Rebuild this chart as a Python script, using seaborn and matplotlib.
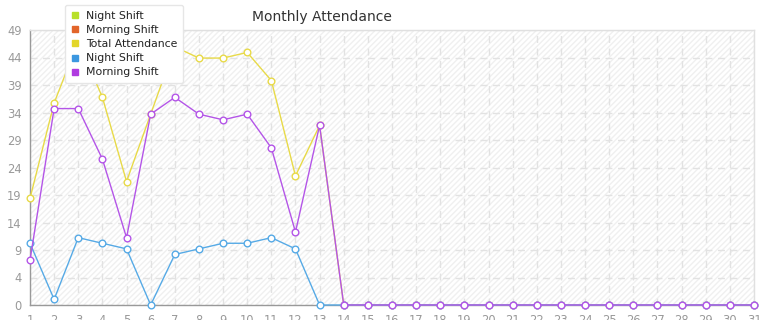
import numpy as np
import pandas as pd
import matplotlib
matplotlib.use("Agg")
import matplotlib.pyplot as plt
from matplotlib.patches import Rectangle
from matplotlib.lines import Line2D
import seaborn as sns

days = list(range(1, 32))
night_shift = [11, 1, 12, 11, 10, 0, 9, 10, 11, 11, 12, 10, 0] + [0] * 18
morning_shift = [8, 35, 35, 26, 12, 34, 37, 34, 33, 34, 28, 13, 32] + [0] * 18
total_attendance = [19, 36, 47, 37, 22, 34, 46, 44, 44, 45, 40, 23, 32] + [0] * 18
y_max = 49
y_tick_labels = ["0", "4", "9", "14", "19", "24", "29", "34", "39", "44", "49"]
legend_labels = ["Night Shift", "Morning Shift", "Total Attendance", "Night Shift", "Morning Shift"]
legend_colors = ["#b8e02a", "#e2652a", "#e3d62a", "#3b97e0", "#b03be0"]

sns.set_theme(style="white")
plt.rcParams['font.family'] = ['DejaVu Sans']

fig = plt.figure(figsize=(7.65, 3.2), dpi=100)
ax = fig.add_axes([30 / 765, 1 - 305 / 320, 724 / 765, 275 / 320])

# hatched background
ax.add_patch(Rectangle((0, 0), 1, 1, transform=ax.transAxes, facecolor="white",
                       edgecolor="#f0f0f0", hatch="//////", linewidth=0, zorder=0))

df = pd.DataFrame({"day": days, "Total Attendance": total_attendance,
                   "Night Shift": night_shift, "Morning Shift": morning_shift})

series = [("Total Attendance", "#e8da48"), ("Night Shift", "#56aae6"), ("Morning Shift", "#b455e8")]
for i, (col, color) in enumerate(series):
    sns.lineplot(data=df, x="day", y=col, ax=ax, color=color, linewidth=1.0,
                 marker="o", markersize=4.8, markerfacecolor="white",
                 markeredgecolor=color, markeredgewidth=1.0, clip_on=False,
                 zorder=3 + i, legend=False)

ax.set_xlim(1, 31)
ax.set_ylim(0, y_max)
ax.set_xticks(days)
ax.set_xticklabels([str(d) for d in days])
yt = np.linspace(0, y_max, 11)
ax.set_yticks(yt)
ax.set_yticklabels(y_tick_labels)
ax.set_xlabel("")
ax.set_ylabel("")

ax.grid(True, color="#e2e2e2", linestyle=(0, (5, 4)), linewidth=1)
ax.set_axisbelow(True)
for s in ["top", "right"]:
    ax.spines[s].set_color("#e0e0e0")
    ax.spines[s].set_linewidth(1)
for s in ["left", "bottom"]:
    ax.spines[s].set_color("#999999")
    ax.spines[s].set_linewidth(1)

ax.tick_params(axis="both", colors="#999999", labelcolor="#999999", labelsize=8.3,
               length=4, width=1, direction="out")
ax.tick_params(axis="x", pad=2.5)
ax.tick_params(axis="y", pad=2)

fig.text(322 / 765, 1 - 17 / 320, "Monthly Attendance", ha="center", va="center",
         fontsize=10, color="#333333")

handles = [Line2D([0], [0], marker="s", color="none", markerfacecolor=c,
                  markeredgecolor=c, markersize=4.5) for c in legend_colors]
leg = fig.legend(handles, legend_labels, loc="upper left",
                 bbox_to_anchor=(65 / 765, 1 - 5 / 320), fontsize=7.8,
                 frameon=True, fancybox=True, framealpha=1, edgecolor="#e6e6e6",
                 handlelength=0.8, handletextpad=0.6, labelspacing=0.38,
                 borderpad=0.55, borderaxespad=0)
leg.set_zorder(10)
for t in leg.get_texts():
    t.set_color("#222222")

fig.savefig("out.png", dpi=100)
